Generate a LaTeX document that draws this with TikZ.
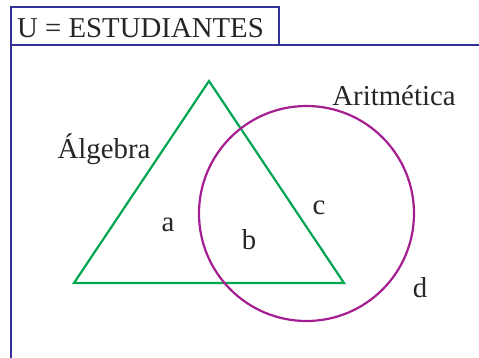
\documentclass[tikz,border=0pt]{standalone}
\usepackage{fontspec}
\setmainfont{Liberation Serif}
\begin{document}
\begin{tikzpicture}[x=1pt,y=-1pt,
  frame/.style={draw=framecol,line width=2.2pt},
  lbl/.style={font=\fontsize{28.8}{30}\selectfont,text=black!85,inner sep=0pt}]
\definecolor{framecol}{RGB}{50,50,150}
\definecolor{tricol}{RGB}{0,166,80}
\definecolor{circcol}{RGB}{165,30,145}
\useasboundingbox (0,0) rectangle (479,357);
\draw[frame] (11,360) -- (11,7) -- (279,7) -- (279,45) -- (482,45);
\draw[frame] (11,45) -- (279,45);
\node[lbl,anchor=west] (U) at (17,28) {U = ESTUDIANTES};
\coordinate (A) at (209,81);
\coordinate (B) at (74,283);
\coordinate (C) at (344,283);
\draw[draw=tricol,line width=2.2pt,line join=miter] (A) -- (B) -- (C) -- cycle;
\node[draw=circcol,line width=2.2pt,circle,minimum size=215pt,inner sep=0pt] (circ) at (306.5,213.5) {};
\node[lbl] (arit) at (394,96) {Aritmética};
\node[lbl] (alg) at (104,149) {Álgebra};
\node[lbl] (a) at (168,225) {a};
\node[lbl] (b) at (249,240) {b};
\node[lbl] (c) at (319,208) {c};
\node[lbl] (d) at (420,288) {d};
\end{tikzpicture}
\end{document}
